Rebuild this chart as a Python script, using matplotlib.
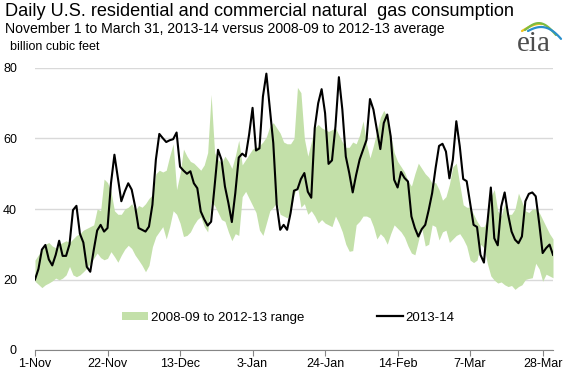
import numpy as np
import pandas as pd
import matplotlib
matplotlib.use('Agg')
import matplotlib.pyplot as plt
from matplotlib.patches import Patch
from matplotlib.lines import Line2D

plt.rcParams['font.family'] = ['Liberation Sans', 'DejaVu Sans']

# days from 1-Nov-2013 to 31-Mar-2014
days = pd.date_range('2013-11-01', '2014-03-31', freq='D')

# 2013-14 daily residential + commercial consumption (billion cubic feet)
consumption_2013_14 = [
    20, 23, 28.5, 29.8, 25.7, 24, 27, 31, 26.7, 26.7,
    30, 39.7, 40.9, 33, 30.5, 23.6, 22.2, 28.3, 33.9, 35.5,
    33.6, 34.6, 47.3, 55.4, 48.8, 42.2, 45, 47.3, 45.5, 40.7,
    34.6, 34.1, 33.6, 35, 41.2, 54, 61.3, 60.1, 59, 59.5,
    59.8, 61.7, 52, 50.9, 50, 50.7, 47.3, 45.9, 39.3, 37.1,
    35.3, 36.4, 46.4, 56.8, 54, 46.4, 41.7, 36.3, 44.5, 54.6,
    55.7, 54.9, 61.1, 68.7, 56.6, 57.2, 71.9, 78.4, 68.7, 58.7,
    41.2, 34.1, 35.5, 34.1, 38.8, 45.2, 45.6, 48.5, 50.2, 44.9,
    43.2, 62.9, 70, 74, 67.2, 52.8, 53.8, 63.4, 77.4, 68.2,
    54.9, 50.2, 44.7, 49.7, 54, 56.8, 59.6, 71.2, 68.2, 62.5,
    57, 64.4, 66.8, 60.6, 48.3, 46.1, 50.5, 48.8, 47.8, 37.9,
    34.6, 32.2, 34.3, 35.5, 39.7, 44.5, 51.6, 57.9, 58.5, 56.3,
    48.7, 54, 64.9, 57.8, 48.5, 47.9, 41.7, 35.5, 34.9, 27,
    24.8, 36, 46.1, 31.7, 29.7, 40.7, 44.7, 38.4, 33.6, 31.3,
    30.3, 32.2, 42.2, 44.3, 44.7, 43.6, 36, 27.5, 28.9, 29.9,
    27,
]

# 2008-09 to 2012-13 range, daily minimum and maximum
range_low = [
    19.5, 18.6, 17.7, 18.5, 19, 19.6, 20.4, 19.9, 20.4, 21.3,
    23.7, 21.3, 20.8, 21.3, 22.2, 23.2, 24.6, 26, 27.5, 26.2,
    25.6, 26, 27.9, 26.5, 24.9, 26.9, 28.6, 29.7, 28.8, 26.9,
    25.5, 24, 22.2, 24, 29.3, 32.2, 33.6, 35, 31.5, 35,
    39.5, 38.5, 36, 32.2, 32.5, 33.5, 35.5, 37, 37.8, 35,
    33.5, 42, 41, 39, 37, 36.5, 33.5, 31, 33, 32.5,
    43.5, 45, 43, 41, 39, 34, 32.5, 36, 39.5, 40.5,
    42, 38.5, 38, 37.5, 39, 44, 46.5, 40.5, 41.5, 38.5,
    39.5, 38, 36, 37, 36, 35.5, 35, 38, 36, 33.5,
    30, 28, 28.2, 35.5, 36.5, 38, 38, 37.5, 35, 31.5,
    33, 32, 30, 33, 35.5, 34.5, 33.5, 32, 29.5, 27.5,
    27, 31, 34.5, 29.5, 30, 35.5, 35, 31.2, 33.5, 34,
    30.5, 31.5, 32.5, 33, 31.5, 29.5, 25.5, 24.8, 25.5, 30,
    29, 24.5, 21, 19.8, 19, 19.3, 18.5, 18, 18.3, 17.2,
    18, 18.5, 20, 20.3, 20.5, 24.6, 23, 19.5, 21.5, 21,
    20.5,
]
range_high = [
    25.5, 27, 28.5, 30, 30.5, 29.5, 29, 30, 30.5, 31,
    30.5, 31.5, 32.5, 33, 34, 34.5, 35, 35.5, 40, 39.5,
    48.5, 47.5, 45, 39.5, 38.5, 38.5, 40, 40.5, 41.5, 39.5,
    41, 40.5, 41.5, 43, 44, 50, 51, 50.5, 51, 55,
    58.5, 45.5, 50, 57, 55, 53.5, 53, 52, 51, 52.5,
    56, 72.5, 56, 54, 53, 55, 53.5, 51.5, 55, 59.5,
    52.5, 54, 55.5, 57, 57.5, 58, 59, 60.5, 63.5, 64.5,
    63, 61.5, 59, 58.5, 58.5, 60, 74.5, 73, 60, 55,
    59, 63, 64, 63, 62.5, 62, 62.5, 63, 61, 59,
    57.5, 57.5, 59, 58.5, 61, 65, 58.5, 54.5, 58, 62,
    66, 68, 66, 61, 56, 53.5, 52, 50.5, 48, 46.5,
    50, 53, 51.5, 50, 49, 47.3, 47.5, 45.5, 42.5, 43.5,
    47, 52, 53, 47, 41.2, 40.5, 40.5, 38.5, 36.5, 35,
    35, 37, 43.5, 45.5, 39.5, 38, 41.5, 38.5, 38.5, 40,
    44.5, 42, 39.5, 39, 40, 40, 39, 37, 35, 33,
    31.5,
]

tick_dates = days[::21]
tick_labels = ['1-Nov', '22-Nov', '13-Dec', '3-Jan', '24-Jan', '14-Feb', '7-Mar', '28-Mar']
y_ticks = [0, 20, 40, 60, 80]

band_color = '#c3e0a9'
axis_grey = '#868686'

fig = plt.figure(figsize=(5.66, 3.74), dpi=100)
ax = fig.add_axes([35 / 566, 24 / 374, 518 / 566, 282 / 374])

ax.fill_between(days, range_low, range_high, color=band_color, lw=0, zorder=2)
ax.plot(days, consumption_2013_14, color='black', lw=1.5, zorder=3)

ax.set_xlim(days[0], days[-1])
ax.set_ylim(0, 80)
ax.set_yticks(y_ticks)
ax.set_xticks(tick_dates)
ax.set_xticklabels(tick_labels)

# only horizontal grid, no left axis line
ax.grid(axis='y', color='#d9d9d9', lw=1, zorder=1)
ax.set_axisbelow(True)
for side in ['top', 'right', 'left']:
    ax.spines[side].set_visible(False)
ax.spines['bottom'].set_color(axis_grey)
ax.spines['bottom'].set_zorder(4)
ax.tick_params(axis='x', direction='out', length=4, color=axis_grey, labelsize=9, pad=2)
ax.tick_params(axis='y', length=0, labelsize=9, pad=13)

handles = [Patch(facecolor=band_color, edgecolor='none'),
           Line2D([], [], color='black', lw=1.6)]
fig.legend(handles, ['2008-09 to 2012-13 range', '2013-14'], ncol=2, frameon=False,
           loc='center', bbox_to_anchor=(0.509, 0.150), fontsize=9.5,
           handlelength=2.0, handleheight=0.6, handletextpad=0.2, columnspacing=5.5)

# titles
fig.text(5 / 566, 1 - 3 / 374, 'Daily U.S. residential and commercial natural  gas consumption',
         fontsize=13.1, va='top', ha='left')
fig.text(5 / 566, 1 - 22 / 374, 'November 1 to March 31, 2013-14 versus 2008-09 to 2012-13 average',
         fontsize=10.1, va='top', ha='left')
fig.text(10 / 566, 1 - 41 / 374, 'billion cubic feet', fontsize=9, va='top', ha='left')

# eia logo
logo = fig.add_axes([510 / 566, 1 - 56 / 374, 56 / 566, 40 / 374])
logo.set_xlim(0, 56)
logo.set_ylim(40, 0)
logo.axis('off')
t = np.linspace(0, 1, 40)
logo.plot(12 + 20 * t, 15 - 9 * np.sin(t * np.pi / 2) + 2 * t, color='#f2c21b', lw=1.6, solid_capstyle='round')
logo.plot(15 + 31 * t, 14 - 8 * np.sin(t * np.pi) + 5 * t ** 2, color='#7dbb42', lw=1.6, solid_capstyle='round')
logo.plot(18 + 33 * t, 15 - 7 * np.sin(t * np.pi * 0.8) + 12 * t ** 2, color='#2a8fcb', lw=1.6, solid_capstyle='round')
logo.text(24, 28, 'eia', family=['Liberation Serif', 'DejaVu Serif'], fontsize=21,
          color='#4d4d4d', ha='center', va='center')

fig.savefig('out.png', dpi=100)
